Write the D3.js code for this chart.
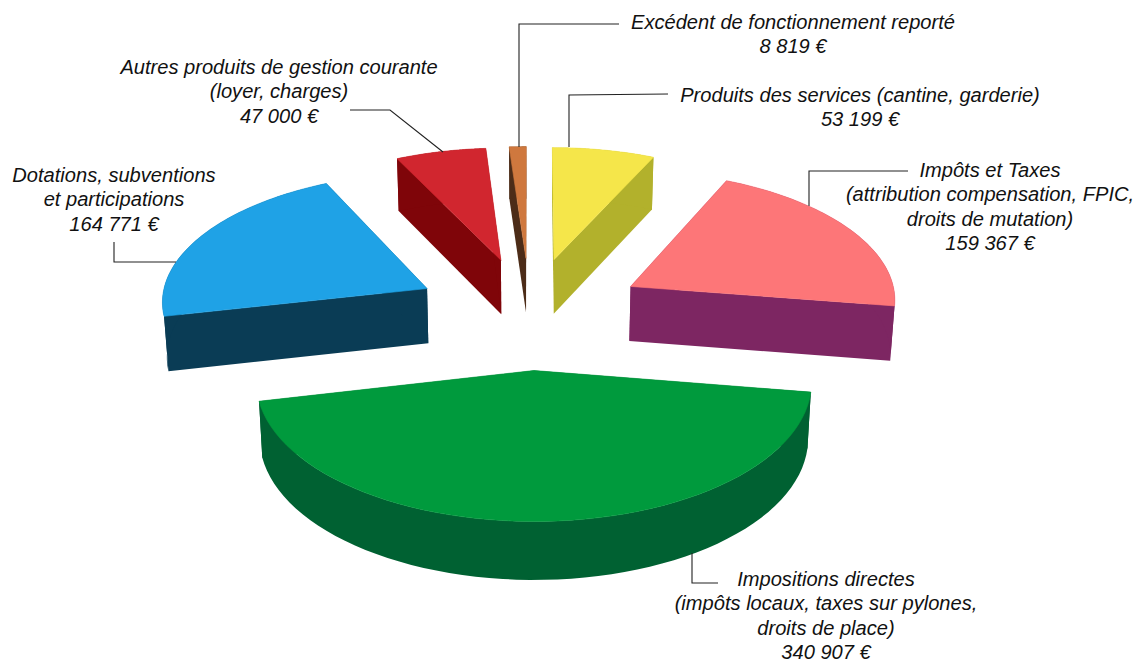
<!DOCTYPE html>
<html><head><meta charset="utf-8">
<script src="https://cdnjs.cloudflare.com/ajax/libs/d3/7.8.5/d3.min.js"></script>
<style>html,body{margin:0;padding:0;background:#fff}svg{display:block}
text{font-family:"Liberation Sans",Arial,sans-serif;font-style:italic;font-size:20.1px;fill:#111;text-anchor:middle}</style>
</head><body><svg id="c" width="1137" height="663"></svg>
<script>
// --- data ---
const categories = ["Produits des services","Impôts et Taxes","Impositions directes","Dotations, subventions et participations","Autres produits de gestion courante","Excédent de fonctionnement reporté"];
const values = [53199,159367,340907,164771,47000,8819];
const labelLines = [
 ["Produits des services (cantine, garderie)","53 199 €"],
 ["Impôts et Taxes","(attribution compensation, FPIC,","droits de mutation)","159 367 €"],
 ["Impositions directes","(impôts locaux, taxes sur pylones,","droits de place)","340 907 €"],
 ["Dotations, subventions","et participations","164 771 €"],
 ["Autres produits de gestion courante","(loyer, charges)","47 000 €"],
 ["Excédent de fonctionnement reporté","8 819 €"]
];
const topColors = ["#f5e64a","#fd7678","#009a3d","#1fa2e6","#d1262f","#cf783e"];
const wallColors = ["#b2b12c","#7d2662","#006132","#0a3c55","#7f0509","#4c2c18"];

// --- layout (not data) ---
const labelX = [860,990,826,114,279,793];
const labelY = [102,177,586,182,74,29];
const lineGap = 24.4;
const leaders = [
 [[569,147],[569,95],[668,94]],
 [[809,206],[809,171],[908,171]],
 [[692,553],[692,583],[718,583]],
 [[176,262],[114,262],[114,242]],
 [[443,152],[390,110],[350,110]],
 [[519,147],[519,24],[619,24]]
];
const R = 267, explode = 116, depth = 55, persp = 0.0003, tilt = 0.483, cx = 530, cy = 312.5, taper = 0.012;

// plane -> screen through d3 scales
const sx = d3.scaleLinear().domain([-1,1]).range([cx-1,cx+1]);
const sy = d3.scaleLinear().domain([-1,1]).range([cy+tilt,cy-tilt]);
function project(X,Y,z){
  const s = 1/(1+persp*Y);
  const shrink = 1 - taper*(z/depth);
  return [sx(X*s*shrink), sy(Y*s)+z*Math.sqrt(s)];
}
const pie = d3.pie().sort(null).value(d=>d).startAngle(0).endAngle(2*Math.PI);
const arcs = pie(values);
const svg = d3.select("#c");
const line = d3.line();

const g = svg.append("g");
arcs.forEach((a,i)=>{
  const mid=(a.startAngle+a.endAngle)/2;
  const ox=explode*Math.sin(mid), oy=explode*Math.cos(mid);
  const arcAngles=d3.range(0,61).map(k=>a.startAngle+(a.endAngle-a.startAngle)*k/60);
  const rim=arcAngles.map(t=>[ox+R*Math.sin(t),oy+R*Math.cos(t)]);
  const P=(p,z)=>project(p[0],p[1],z);
  const apex=[ox,oy];
  const group=g.append("g").attr("class","slice");
  const wall=pts=>group.append("path").attr("d",line(pts)+"Z").attr("fill",wallColors[i]);
  // two radial cut faces
  wall([P(apex,0),P(rim[0],0),P(rim[0],depth),P(apex,depth)]);
  wall([P(apex,0),P(rim[60],0),P(rim[60],depth),P(apex,depth)]);
  // outer rim face
  wall(rim.map(p=>P(p,0)).concat(rim.slice().reverse().map(p=>P(p,depth))));
  // top face
  group.append("path").attr("d",line([P(apex,0)].concat(rim.map(p=>P(p,0))))+"Z")
    .attr("fill",topColors[i]).attr("stroke",topColors[i]).attr("stroke-width",0.6).attr("stroke-linejoin","round");
});

svg.append("g").selectAll("path").data(leaders).join("path")
  .attr("d",d=>line(d)).attr("fill","none").attr("stroke","#222").attr("stroke-width",1.1);

labelLines.forEach((ls,i)=>{
  const t=svg.append("text").attr("aria-label",categories[i]);
  ls.forEach((s,j)=>t.append("tspan").attr("x",labelX[i]).attr("y",labelY[i]+j*lineGap).text(s));
});
</script></body></html>
